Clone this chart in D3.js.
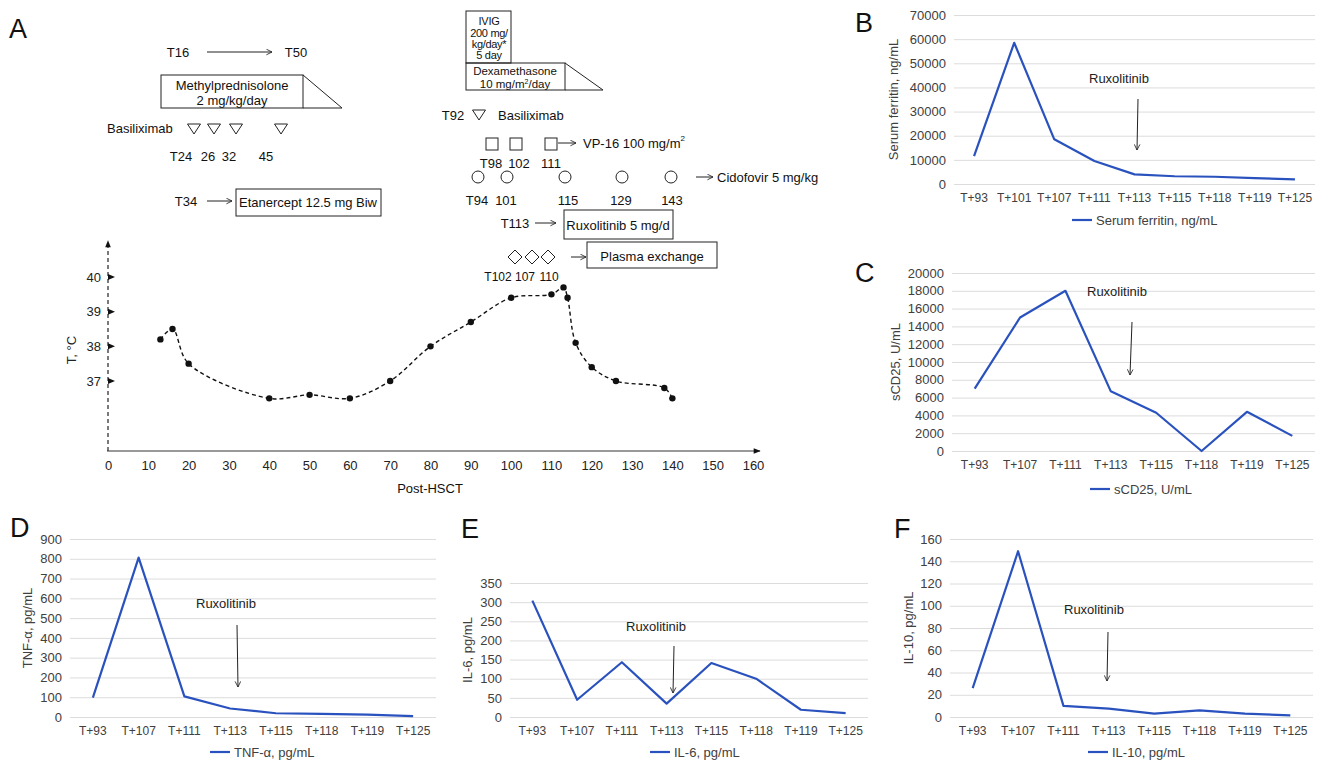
<!DOCTYPE html>
<html>
<head>
<meta charset="utf-8">
<script src="https://cdn.jsdelivr.net/npm/d3@7"></script>
<style>
  body { margin: 0; background: #fff; }
  svg { font-family: "Liberation Sans", Arial, Helvetica, sans-serif; }
</style>
</head>
<body>
<svg id="fig" width="1317" height="760"></svg>
<script>
// panel A: body temperature by day after HSCT
var tempDays = [13, 16, 20, 40, 50, 60, 70, 80, 90, 100, 110, 113, 114, 116, 120, 126, 138, 140];
var tempValues = [38.2, 38.5, 37.5, 36.5, 36.6, 36.5, 37.0, 38.0, 38.7, 39.4, 39.5, 39.7, 39.4, 38.1, 37.4, 37.0, 36.8, 36.5];
var dayTicks = [0, 10, 20, 30, 40, 50, 60, 70, 80, 90, 100, 110, 120, 130, 140, 150, 160];
var tempTicks = [37, 38, 39, 40];

// panel B: ferritin sampling days
var ferritinDays = ["T+93", "T+101", "T+107", "T+111", "T+113", "T+115", "T+118", "T+119", "T+125"];
var ferritin = [11500, 58500, 18500, 9500, 4000, 3200, 3000, 2400, 1900];

// panels C-F share the same sampling days
var labDays = ["T+93", "T+107", "T+111", "T+113", "T+115", "T+118", "T+119", "T+125"];
var sCD25 = [7000, 15000, 18000, 6700, 4300, 0, 4400, 1700];
var tnfAlpha = [98, 806, 104, 43, 19, 16, 12, 4];
var il6 = [304, 45, 143, 35, 141, 100, 19, 10];
var il10 = [26, 149, 10, 7.5, 3, 6, 3, 1.5];

var blue = "#2a52be";
var svg = d3.select("#fig");

// arrow heads
var defs = svg.append("defs");
defs.append("marker")
  .attr("id", "open")
  .attr("viewBox", "0 0 10 10")
  .attr("refX", 9).attr("refY", 5)
  .attr("markerWidth", 7).attr("markerHeight", 7)
  .attr("orient", "auto")
  .append("path")
    .attr("d", "M1,1 L9,5 L1,9")
    .attr("fill", "none")
    .attr("stroke", "#222")
    .attr("stroke-width", 1.2);
defs.append("marker")
  .attr("id", "solid")
  .attr("viewBox", "0 0 10 10")
  .attr("refX", 9).attr("refY", 5)
  .attr("markerWidth", 8).attr("markerHeight", 7)
  .attr("markerUnits", "userSpaceOnUse")
  .attr("orient", "auto")
  .append("path")
    .attr("d", "M0,1 L10,5 L0,9 Z")
    .attr("fill", "#111");

function label(x, y, s, anchor, size) {
  return svg.append("text")
    .attr("x", x).attr("y", y)
    .attr("text-anchor", anchor || "middle")
    .attr("dominant-baseline", "central")
    .attr("fill", "#111")
    .style("font-size", (size || 13) + "px")
    .text(s);
}

function arrow(x1, y1, x2, y2) {
  svg.append("line")
    .attr("x1", x1).attr("y1", y1).attr("x2", x2).attr("y2", y2)
    .attr("stroke", "#222").attr("stroke-width", 1)
    .attr("marker-end", "url(#open)");
}

function box(x, y, w, h) {
  svg.append("rect")
    .attr("x", x).attr("y", y).attr("width", w).attr("height", h)
    .attr("fill", "none").attr("stroke", "#222").attr("stroke-width", 1);
}

function taper(x, y, w, h) {
  svg.append("path")
    .attr("d", "M" + x + "," + y + " L" + (x + w) + "," + (y + h) + " L" + x + "," + (y + h))
    .attr("fill", "none").attr("stroke", "#222").attr("stroke-width", 1);
}

function downTriangle(cx, cy) {
  svg.append("path")
    .attr("d", "M" + (cx - 6.5) + "," + (cy - 5) + " L" + (cx + 6.5) + "," + (cy - 5) + " L" + cx + "," + (cy + 5) + " Z")
    .attr("fill", "none").attr("stroke", "#222").attr("stroke-width", 1);
}

function panelLetter(x, y, s) {
  svg.append("text").attr("x", x).attr("y", y)
    .attr("fill", "#111").style("font-size", "27px").text(s);
}

// ---------------- panel A ----------------
panelLetter(9, 38, "A");

var xDay = d3.scaleLinear().domain([0, 160]).range([108, 753]);
var yTemp = d3.scaleLinear().domain([37, 40]).range([381, 277]);
var axisY = 451;

var xAxisA = svg.append("g")
  .attr("transform", "translate(0," + axisY + ")")
  .call(d3.axisBottom(xDay).tickValues(dayTicks).tickSize(0).tickPadding(10));
xAxisA.select(".domain").remove();
xAxisA.selectAll("text").attr("fill", "#222").style("font-size", "13px");

svg.append("line")
  .attr("x1", 107).attr("y1", axisY).attr("x2", 760).attr("y2", axisY)
  .attr("stroke", "#777").attr("stroke-width", 1.5)
  .attr("marker-end", "url(#solid)");

var yAxisA = svg.append("g")
  .attr("transform", "translate(108,0)")
  .call(d3.axisLeft(yTemp).tickValues(tempTicks).tickSize(0).tickPadding(7).tickFormat(d3.format("d")));
yAxisA.select(".domain").remove();
yAxisA.selectAll("text").attr("fill", "#222").style("font-size", "13px");

svg.append("line")
  .attr("x1", 108).attr("y1", axisY).attr("x2", 108).attr("y2", 241)
  .attr("stroke", "#333").attr("stroke-width", 1.3)
  .attr("stroke-dasharray", "4,3")
  .attr("marker-end", "url(#solid)");

svg.selectAll("path.ytick")
  .data(tempTicks)
  .enter()
  .append("path")
    .attr("class", "ytick")
    .attr("d", function(d) { var y = yTemp(d); return "M108," + (y - 3) + " L115," + y + " L108," + (y + 3) + " Z"; })
    .attr("fill", "#111");

svg.append("text")
  .attr("transform", "translate(71,350) rotate(-90)")
  .attr("text-anchor", "middle")
  .attr("dominant-baseline", "central")
  .attr("fill", "#222").style("font-size", "13px")
  .text("T, \u00B0C");

label(430, 488, "Post-HSCT");

var tempPoints = tempDays.map(function(d, i) { return [d, tempValues[i]]; });
var tempLine = d3.line()
  .x(function(d) { return xDay(d[0]); })
  .y(function(d) { return yTemp(d[1]); })
  .curve(d3.curveCatmullRom.alpha(0.5));

svg.append("path")
  .datum(tempPoints)
  .attr("d", tempLine)
  .attr("fill", "none")
  .attr("stroke", "#111")
  .attr("stroke-width", 1.4)
  .attr("stroke-dasharray", "4,3");

svg.selectAll("circle.temp")
  .data(tempPoints)
  .enter()
  .append("circle")
    .attr("class", "temp")
    .attr("cx", function(d) { return xDay(d[0]); })
    .attr("cy", function(d) { return yTemp(d[1]); })
    .attr("r", 3.2)
    .attr("fill", "#111");

// treatment timeline, left block
label(178, 52, "T16");
arrow(207, 52, 272, 52);
label(296, 52, "T50");
box(161, 75, 142, 33);
taper(303, 75, 39, 33);
label(232, 85, "Methylprednisolone");
label(232, 100, "2 mg/kg/day");

label(107, 128, "Basiliximab", "start");
[194, 214, 236, 281].forEach(function(x) { downTriangle(x, 129); });
label(181, 156, "T24");
label(208, 156, "26");
label(229, 156, "32");
label(266, 156, "45");

label(186, 201, "T34");
arrow(207, 201, 232, 201);
box(236, 189, 145, 27);
label(308, 202, "Etanercept 12.5 mg Biw");

// treatment timeline, right block
box(466, 11, 45, 52);
[["IVIG", 21], ["200 mg/", 33], ["kg/day*", 44], ["5 day", 55]].forEach(function(t) {
  label(489, t[1], t[0], "middle", 11).style("letter-spacing", "-0.3px");
});
box(466, 63, 99, 27);
taper(565, 63, 38, 27);
label(515, 70.5, "Dexamethasone", "middle", 11.5);
var dexDose = label(515, 84, "10 mg/m", "middle", 11.5);
dexDose.append("tspan").attr("dy", "-3").style("font-size", "7px").text("2");
dexDose.append("tspan").attr("dy", "3").text("/day");

label(453, 115, "T92");
downTriangle(479, 115);
label(498, 115, "Basiliximab", "start");

[486, 510, 545].forEach(function(x) {
  svg.append("rect").attr("x", x).attr("y", 138).attr("width", 12).attr("height", 12)
    .attr("fill", "none").attr("stroke", "#222").attr("stroke-width", 1);
});
arrow(558, 143, 576, 143);
var vp16 = label(583, 143, "VP-16 100 mg/m", "start");
vp16.append("tspan").attr("dy", "-5").style("font-size", "8px").text("2");
label(491, 163, "T98");
label(519, 163, "102");
label(551, 163, "111");

[478, 507, 565, 622, 671].forEach(function(x) {
  svg.append("circle").attr("cx", x).attr("cy", 177).attr("r", 6)
    .attr("fill", "none").attr("stroke", "#222").attr("stroke-width", 1);
});
arrow(696, 177, 713, 177);
label(717, 177, "Cidofovir 5 mg/kg", "start");
label(477, 200, "T94");
label(506, 200, "101");
label(568, 200, "115");
label(621, 200, "129");
label(672, 200, "143");

label(515, 223, "T113");
arrow(535, 223, 556, 223);
box(564, 210, 109, 29);
label(618, 225, "Ruxolitinib 5 mg/d");

[515, 532, 548].forEach(function(x) {
  svg.append("path")
    .attr("d", "M" + x + "," + 250 + " L" + (x + 7) + "," + 257 + " L" + x + "," + 264 + " L" + (x - 7) + "," + 257 + " Z")
    .attr("fill", "none").attr("stroke", "#222").attr("stroke-width", 1);
});
arrow(571, 257, 586, 257);
box(587, 242, 130, 26);
label(652, 256, "Plasma exchange");
label(498, 277, "T102", "middle", 12);
label(525, 277, "107", "middle", 12);
label(549, 277, "110", "middle", 12);

// ---------------- panels B-F ----------------
var panels = [
  { letter: "B", lx: 855, ly: 32, cats: ferritinDays, values: ferritin, max: 70000, step: 10000,
    left: 954, right: 1315, top: 15, bottom: 184, ylab: "Serum ferritin, ng/mL", ylabX: 893,
    legend: "Serum ferritin, ng/mL", legX: 1072, legY: 220,
    rux: { tx: 1119, ty: 78, x1: 1138, y1: 99, x2: 1137, y2: 150 } },
  { letter: "C", lx: 855, ly: 282, cats: labDays, values: sCD25, max: 20000, step: 2000,
    left: 952, right: 1315, top: 273, bottom: 451, ylab: "sCD25, U/mL", ylabX: 895,
    legend: "sCD25, U/mL", legX: 1090, legY: 489,
    rux: { tx: 1117, ty: 291, x1: 1132, y1: 322, x2: 1130, y2: 375 } },
  { letter: "D", lx: 10, ly: 537, cats: labDays, values: tnfAlpha, max: 900, step: 100,
    left: 70, right: 436, top: 539, bottom: 717, ylab: "TNF-\u03B1, pg/mL", ylabX: 27,
    legend: "TNF-\u03B1, pg/mL", legX: 210, legY: 752,
    rux: { tx: 226, ty: 603, x1: 237, y1: 625, x2: 238, y2: 687 } },
  { letter: "E", lx: 461, ly: 538, cats: labDays, values: il6, max: 350, step: 50,
    left: 510, right: 868, top: 583, bottom: 717, ylab: "IL-6, pg/mL", ylabX: 467,
    legend: "IL-6, pg/mL", legX: 650, legY: 752,
    rux: { tx: 656, ty: 626, x1: 674, y1: 646, x2: 673, y2: 693 } },
  { letter: "F", lx: 894, ly: 538, cats: labDays, values: il10, max: 160, step: 20,
    left: 950, right: 1313, top: 539, bottom: 717, ylab: "IL-10, pg/mL", ylabX: 908,
    legend: "IL-10, pg/mL", legX: 1088, legY: 752,
    rux: { tx: 1094, ty: 609, x1: 1108, y1: 632, x2: 1107, y2: 681 } }
];

panels.forEach(drawPanel);

function drawPanel(p) {
  panelLetter(p.lx, p.ly, p.letter);

  var x = d3.scaleBand().domain(p.cats).range([p.left, p.right]);
  var y = d3.scaleLinear().domain([0, p.max]).range([p.bottom, p.top]);
  var g = svg.append("g");

  // gridlines double as the y axis
  var yAxis = g.append("g")
    .attr("transform", "translate(" + p.left + ",0)")
    .call(d3.axisLeft(y)
      .tickValues(d3.range(0, p.max + 1, p.step))
      .tickSize(-(p.right - p.left))
      .tickPadding(8)
      .tickFormat(d3.format("d")));
  yAxis.select(".domain").remove();
  yAxis.selectAll("line").attr("stroke", "#dcdcdc").attr("stroke-width", 1);
  yAxis.selectAll("text").attr("fill", "#404040").style("font-size", "13px");

  var xAxis = g.append("g")
    .attr("transform", "translate(0," + p.bottom + ")")
    .call(d3.axisBottom(x).tickSize(0).tickPadding(9));
  xAxis.select(".domain").remove();
  xAxis.selectAll("text").attr("fill", "#404040").style("font-size", "12px");

  g.append("text")
    .attr("transform", "translate(" + p.ylabX + "," + ((p.top + p.bottom) / 2) + ") rotate(-90)")
    .attr("text-anchor", "middle")
    .attr("dominant-baseline", "central")
    .attr("fill", "#404040").style("font-size", "13px")
    .text(p.ylab);

  var line = d3.line()
    .x(function(d) { return x(d.cat) + x.bandwidth() / 2; })
    .y(function(d) { return y(d.v); });

  g.append("path")
    .datum(p.cats.map(function(c, i) { return { cat: c, v: p.values[i] }; }))
    .attr("d", line)
    .attr("fill", "none")
    .attr("stroke", blue)
    .attr("stroke-width", 2.2)
    .attr("stroke-linejoin", "round");

  // Ruxolitinib start marker
  g.append("text")
    .attr("x", p.rux.tx).attr("y", p.rux.ty)
    .attr("text-anchor", "middle")
    .attr("dominant-baseline", "central")
    .attr("fill", "#222").style("font-size", "13px")
    .text("Ruxolitinib");
  g.append("line")
    .attr("x1", p.rux.x1).attr("y1", p.rux.y1)
    .attr("x2", p.rux.x2).attr("y2", p.rux.y2)
    .attr("stroke", "#222").attr("stroke-width", 1)
    .attr("marker-end", "url(#open)");

  // legend
  g.append("line")
    .attr("x1", p.legX).attr("y1", p.legY)
    .attr("x2", p.legX + 20).attr("y2", p.legY)
    .attr("stroke", blue).attr("stroke-width", 2.2);
  g.append("text")
    .attr("x", p.legX + 24).attr("y", p.legY)
    .attr("dominant-baseline", "central")
    .attr("fill", "#404040").style("font-size", "13px")
    .text(p.legend);
}
</script>
</body>
</html>
